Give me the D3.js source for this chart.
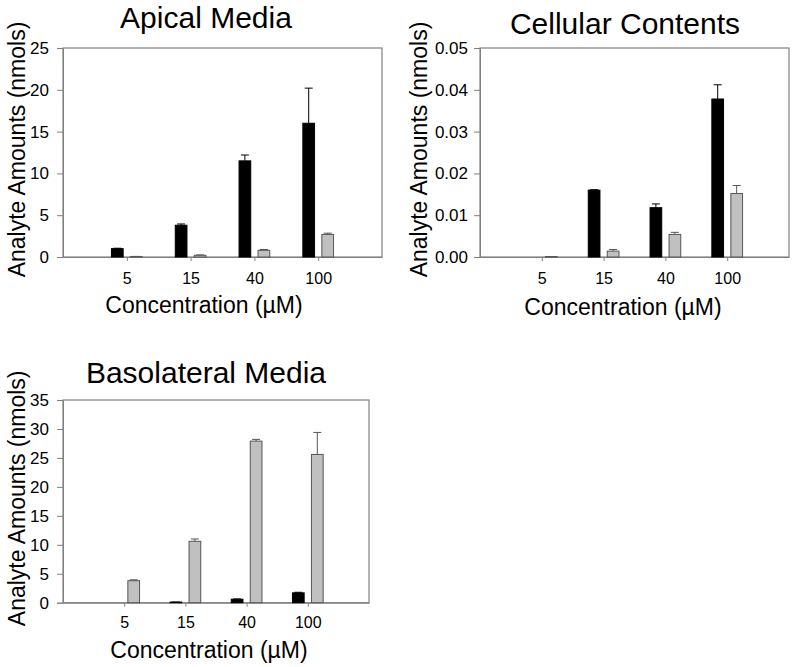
<!DOCTYPE html>
<html lang="en">
<head>
<meta charset="utf-8">
<title>Analyte Amounts</title>
<script src="https://cdn.jsdelivr.net/npm/d3@7"></script>
<style>
  body { margin: 0; background: #fff; }
  text { font-family: "Liberation Sans", Arial, sans-serif; fill: #000; }
</style>
</head>
<body>
<script>
// categories (concentration, uM)
var concentrations = ["5", "15", "40", "100"];

// Apical media (nmols)
var apicalBlack = [1.0, 3.8, 11.5, 16.0];
var apicalBlackErr = [0.05, 0.15, 0.7, 4.2];
var apicalGray = [0.05, 0.2, 0.8, 2.7];
var apicalGrayErr = [0.02, 0.05, 0.1, 0.15];
var apicalTicks = [0, 5, 10, 15, 20, 25];

// Cellular contents (nmols)
var cellBlack = [0, 0.016, 0.0118, 0.0378];
var cellBlackErr = [0, 0.0001, 0.0009, 0.0034];
var cellGray = [0.0001, 0.0014, 0.0054, 0.0152];
var cellGrayErr = [0, 0.0004, 0.0005, 0.0019];
var cellTicks = [0, 0.01, 0.02, 0.03, 0.04, 0.05];

// Basolateral media (nmols)
var basoBlack = [0, 0.1, 0.6, 1.7];
var basoBlackErr = [0, 0.02, 0.05, 0.1];
var basoGray = [3.8, 10.6, 27.9, 25.6];
var basoGrayErr = [0.15, 0.4, 0.3, 3.8];
var basoTicks = [0, 5, 10, 15, 20, 25, 30, 35];

var w = 800, h = 667;
var svg = d3.select("body").append("svg").attr("width", w).attr("height", h);

var axisColor = "#808080";
var barW = 11.7, barOff = 9.5, capW = 8;

function drawPanel(p) {
    var g = svg.append("g");
    var x = d3.scalePoint().domain(concentrations).range([p.left, p.right]).padding(1);
    var y = d3.scaleLinear().domain([0, d3.max(p.ticks)]).range([p.bottom, p.top]);

    // frame
    g.append("rect")
        .attr("x", p.left).attr("y", p.top)
        .attr("width", p.right - p.left).attr("height", p.bottom - p.top)
        .attr("fill", "none").attr("stroke", axisColor).attr("stroke-width", 1.2);

    // y axis
    var yAxis = g.append("g").attr("transform", "translate(" + p.left + ",0)")
        .call(d3.axisLeft(y).tickValues(p.ticks).tickSize(6).tickPadding(p.yPad).tickFormat(p.fmt));
    yAxis.select(".domain").attr("stroke", axisColor);
    yAxis.selectAll(".tick line").attr("stroke", axisColor);
    yAxis.selectAll("text").attr("font-size", "17px").attr("fill", "#000")
        .attr("font-family", "Liberation Sans, Arial, sans-serif");

    // x axis
    var xAxis = g.append("g").attr("transform", "translate(0," + p.bottom + ")")
        .call(d3.axisBottom(x).tickSize(4).tickPadding(p.xPad).tickSizeOuter(0));
    xAxis.select(".domain").attr("stroke", axisColor);
    xAxis.selectAll(".tick line").attr("stroke", axisColor);
    xAxis.selectAll("text").attr("font-size", "16px").attr("fill", "#000")
        .attr("font-family", "Liberation Sans, Arial, sans-serif");

    // bars with upward error bars
    var series = [
        { vals: p.black, errs: p.blackErr, off: -barOff, fill: "#000", stroke: "#000" },
        { vals: p.gray, errs: p.grayErr, off: barOff, fill: "#c0c0c0", stroke: "#555" }
    ];
    series.forEach(function (s) {
        var data = concentrations.map(function (c, i) { return { c: c, v: s.vals[i], e: s.errs[i] }; })
            .filter(function (d) { return d.v > 0; });
        var bg = g.append("g");
        bg.selectAll("line.err").data(data).enter().append("line")
            .attr("x1", function (d) { return x(d.c) + s.off; })
            .attr("x2", function (d) { return x(d.c) + s.off; })
            .attr("y1", function (d) { return y(d.v); })
            .attr("y2", function (d) { return y(d.v + d.e); })
            .attr("stroke", s.stroke).attr("stroke-width", 1);
        bg.selectAll("line.cap").data(data).enter().append("line")
            .attr("x1", function (d) { return x(d.c) + s.off - capW / 2; })
            .attr("x2", function (d) { return x(d.c) + s.off + capW / 2; })
            .attr("y1", function (d) { return y(d.v + d.e); })
            .attr("y2", function (d) { return y(d.v + d.e); })
            .attr("stroke", s.stroke).attr("stroke-width", 1);
        bg.selectAll("rect").data(data).enter().append("rect")
            .attr("x", function (d) { return x(d.c) + s.off - barW / 2; })
            .attr("y", function (d) { return y(d.v); })
            .attr("width", barW)
            .attr("height", function (d) { return p.bottom - y(d.v); })
            .attr("fill", s.fill).attr("stroke", s.stroke).attr("stroke-width", 1);
    });

    // titles
    g.append("text").attr("x", p.titleX).attr("y", p.titleY)
        .attr("text-anchor", "middle").attr("font-size", "30px").text(p.title);
    g.append("text").attr("x", p.xTitleX).attr("y", p.bottom + p.xTitleDy)
        .attr("text-anchor", "middle").attr("font-size", "23px").text("Concentration (\u00b5M)");
    g.append("text")
        .attr("transform", "translate(" + p.yTitleX + "," + ((p.top + p.bottom) / 2 - 3) + ") rotate(-90)")
        .attr("text-anchor", "middle").attr("font-size", "23px").text("Analyte Amounts (nmols)");
}

drawPanel({
    title: "Apical Media", titleX: 206, titleY: 28,
    left: 63, right: 382, top: 48, bottom: 257,
    ticks: apicalTicks, fmt: d3.format("d"),
    black: apicalBlack, blackErr: apicalBlackErr, gray: apicalGray, grayErr: apicalGrayErr,
    yPad: 8, xPad: 12, xTitleX: 204, xTitleDy: 56, yTitleX: 25
});

drawPanel({
    title: "Cellular Contents", titleX: 625, titleY: 34,
    left: 480, right: 789, top: 48, bottom: 257,
    ticks: cellTicks, fmt: d3.format(".2f"),
    black: cellBlack, blackErr: cellBlackErr, gray: cellGray, grayErr: cellGrayErr,
    yPad: 6, xPad: 12, xTitleX: 623, xTitleDy: 58, yTitleX: 427
});

drawPanel({
    title: "Basolateral Media", titleX: 206, titleY: 383,
    left: 63, right: 369, top: 400, bottom: 602.7,
    ticks: basoTicks, fmt: d3.format("d"),
    black: basoBlack, blackErr: basoBlackErr, gray: basoGray, grayErr: basoGrayErr,
    yPad: 8, xPad: 10, xTitleX: 209, xTitleDy: 55, yTitleX: 25
});
</script>
</body>
</html>
